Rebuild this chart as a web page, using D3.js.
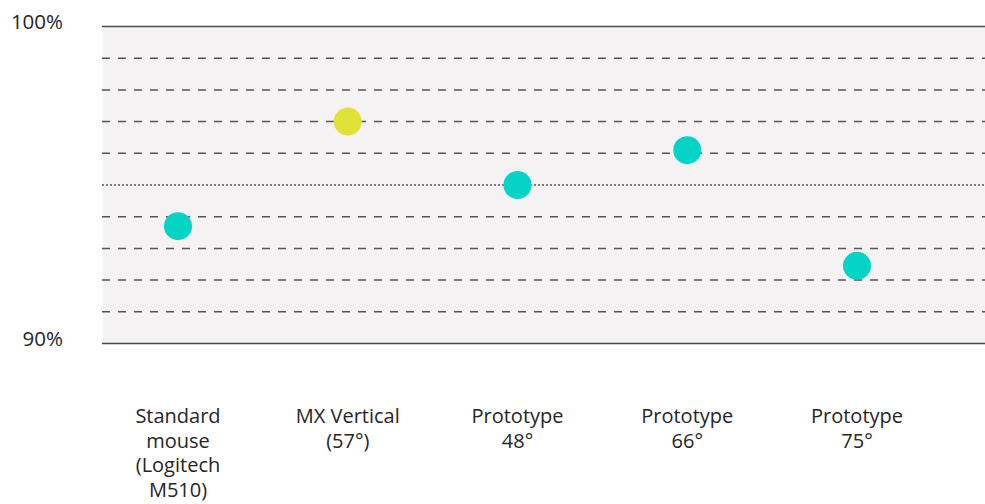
<!DOCTYPE html>
<html>
<head>
<meta charset="utf-8">
<script src="https://cdn.jsdelivr.net/npm/d3@7"></script>
<style>
  html, body { margin: 0; padding: 0; background: #ffffff; }
  svg { display: block; }
  text { font-family: "Open Sans", "Lato", sans-serif; fill: #262626; }
</style>
</head>
<body>
<svg id="chart" width="985" height="504"></svg>
<script>
// ---- data ----
const categories = ["Standard mouse (Logitech M510)", "MX Vertical (57°)", "Prototype 48°", "Prototype 66°", "Prototype 75°"];
const labelLines = [
  ["Standard", "mouse", "(Logitech", "M510)"],
  ["MX Vertical", "(57°)"],
  ["Prototype", "48°"],
  ["Prototype", "66°"],
  ["Prototype", "75°"]
];
const values = [93.7, 97.0, 95.0, 96.1, 92.45];
const highlight = [false, true, false, false, false];
const yTicks = [90, 91, 92, 93, 94, 95, 96, 97, 98, 99, 100];
const yTickLabels = ["90%", "100%"];

// ---- layout ----
const W = 985, H = 504;
const plotLeft = 102, plotRight = 985;
const svg = d3.select("#chart");

const y = d3.scaleLinear().domain([90, 100]).range([343.5, 26.5]);
const x = d3.scalePoint().domain(categories).range([178, 857]);

// background
svg.append("rect")
  .attr("x", plotLeft + 1).attr("y", y(100))
  .attr("width", plotRight - plotLeft - 1).attr("height", y(90) - y(100))
  .attr("fill", "#f4f2f3");

// grid lines
svg.append("g").selectAll("line")
  .data(yTicks)
  .join("line")
  .attr("x1", plotLeft).attr("x2", plotRight)
  .attr("y1", d => y(d)).attr("y2", d => y(d))
  .attr("stroke", d => (d === 90 || d === 100) ? "#4a4a4a" : "#555")
  .attr("stroke-width", d => (d === 90 || d === 100) ? 1.6 : 1.5)
  .attr("stroke-dasharray", d => (d === 90 || d === 100) ? null : (d === 95 ? "2,2" : "8,8"));

// y labels
svg.append("g").selectAll("text")
  .data([90, 100])
  .join("text")
  .attr("x", 63)
  .attr("y", d => y(d) - 3)
  .attr("text-anchor", "end")
  .attr("dominant-baseline", "middle")
  .attr("font-size", 20.5)
  .text((d, i) => yTickLabels[i]);

// points
svg.append("g").selectAll("circle")
  .data(values)
  .join("circle")
  .attr("cx", (d, i) => x(categories[i]))
  .attr("cy", d => y(d))
  .attr("r", 14)
  .attr("fill", (d, i) => highlight[i] ? "#e0e237" : "#04d3c6");

// x labels
const lab = svg.append("g").selectAll("text")
  .data(categories)
  .join("text")
  .attr("x", d => x(d))
  .attr("y", 423)
  .attr("text-anchor", "middle")
  .attr("font-size", 20);
lab.each(function(d, i) {
  d3.select(this).selectAll("tspan")
    .data(labelLines[i])
    .join("tspan")
    .attr("x", x(d))
    .attr("dy", (t, j) => j === 0 ? 0 : 24.5)
    .text(t => t);
});
</script>
</body>
</html>
